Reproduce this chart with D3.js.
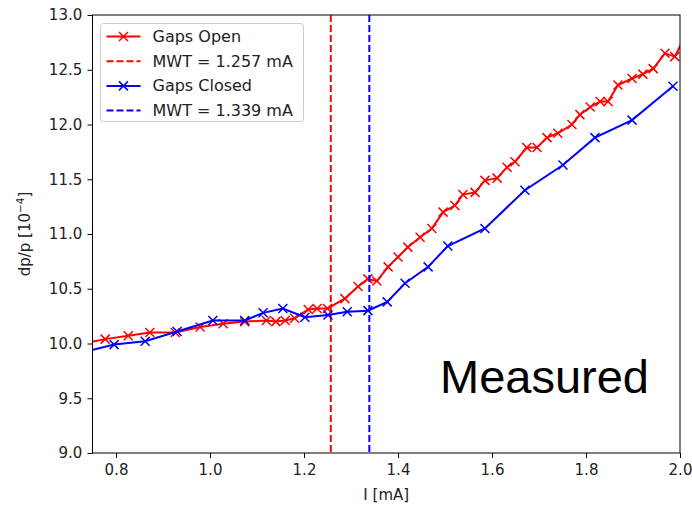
<!DOCTYPE html>
<html>
<head>
<meta charset="utf-8">
<script src="https://cdn.jsdelivr.net/npm/d3@7"></script>
<style>
  body { margin: 0; background: #fff; }
  svg { display: block; font-family: "DejaVu Sans", sans-serif; }
</style>
</head>
<body>
<div id="chart"></div>
<script>
// Gaps Open (red)
var openI = [0.73, 0.777, 0.826, 0.872, 0.926, 0.979, 1.028, 1.074, 1.12, 1.14, 1.16, 1.18,
    1.209, 1.228, 1.25, 1.287, 1.315, 1.336, 1.355, 1.379, 1.400, 1.421, 1.447, 1.472,
    1.496, 1.521, 1.538, 1.564, 1.585, 1.611, 1.632, 1.649, 1.674, 1.696, 1.717, 1.740,
    1.770, 1.787, 1.809, 1.830, 1.847, 1.868, 1.898, 1.921, 1.943, 1.968, 1.989, 2.01];
var openDp = [10.00, 10.04, 10.07, 10.10, 10.10, 10.15, 10.18, 10.20, 10.21, 10.20, 10.21, 10.23,
    10.31, 10.32, 10.32, 10.41, 10.52, 10.59, 10.57, 10.70, 10.79, 10.88, 10.97, 11.05,
    11.20, 11.26, 11.36, 11.38, 11.49, 11.51, 11.61, 11.66, 11.79, 11.79, 11.88, 11.92,
    12.00, 12.09, 12.16, 12.21, 12.21, 12.36, 12.42, 12.46, 12.51, 12.65, 12.62, 12.80];

// Gaps Closed (blue)
var closedI = [0.73, 0.796, 0.862, 0.930, 1.006, 1.074, 1.113, 1.155, 1.202, 1.251, 1.292,
    1.336, 1.377, 1.415, 1.464, 1.506, 1.585, 1.670, 1.751, 1.819, 1.898, 1.985];
var closedDp = [9.92, 9.99, 10.02, 10.11, 10.21, 10.21, 10.28, 10.32, 10.24, 10.26, 10.29,
    10.30, 10.38, 10.55, 10.70, 10.89, 11.05, 11.40, 11.63, 11.88, 12.04, 12.35];

var mwtOpen = 1.257, mwtClosed = 1.339;

var xTicks = [0.8, 1.0, 1.2, 1.4, 1.6, 1.8, 2.0];
var yTicks = [9.0, 9.5, 10.0, 10.5, 11.0, 11.5, 12.0, 12.5, 13.0];

var W = 692, H = 505;
var margin = {top: 15, right: 12, bottom: 52, left: 92.5};
var w = W - margin.left - margin.right, h = H - margin.top - margin.bottom;

var svg = d3.select("#chart").append("svg").attr("width", W).attr("height", H);
var g = svg.append("g").attr("transform", "translate(" + margin.left + "," + margin.top + ")");

var x = d3.scaleLinear().domain([0.75, 2.0]).range([0, w]);
var y = d3.scaleLinear().domain([9.0, 13.0]).range([h, 0]);

svg.append("defs").append("clipPath").attr("id", "clip")
    .append("rect").attr("width", w).attr("height", h);

var plot = g.append("g").attr("clip-path", "url(#clip)");

var line = d3.line().x(function(d) { return x(d[0]); }).y(function(d) { return y(d[1]); });

function drawSeries(xs, ys, color) {
    var pts = xs.map(function(v, i) { return [v, ys[i]]; });
    plot.append("path").datum(pts)
        .attr("d", line).attr("fill", "none")
        .attr("stroke", color).attr("stroke-width", 2);
    var s = 4.5;
    plot.selectAll(null).data(pts).enter().append("path")
        .attr("d", function(d) {
            var cx = x(d[0]), cy = y(d[1]);
            return "M" + (cx - s) + "," + (cy - s) + "L" + (cx + s) + "," + (cy + s) +
                "M" + (cx - s) + "," + (cy + s) + "L" + (cx + s) + "," + (cy - s);
        })
        .attr("stroke", color).attr("stroke-width", 1.5).attr("fill", "none");
}

drawSeries(openI, openDp, "#ff0000");

plot.append("line")
    .attr("x1", x(mwtOpen)).attr("x2", x(mwtOpen)).attr("y1", 0).attr("y2", h)
    .attr("stroke", "#ff0000").attr("stroke-width", 2).attr("stroke-dasharray", "7,3");

drawSeries(closedI, closedDp, "#0000ff");

plot.append("line")
    .attr("x1", x(mwtClosed)).attr("x2", x(mwtClosed)).attr("y1", 0).attr("y2", h)
    .attr("stroke", "#0000ff").attr("stroke-width", 2).attr("stroke-dasharray", "7,3");

// axes
var xAxis = d3.axisBottom(x).tickValues(xTicks).tickFormat(d3.format(".1f")).tickSize(5).tickSizeOuter(0);
var yAxis = d3.axisLeft(y).tickValues(yTicks).tickFormat(d3.format(".1f")).tickSize(5).tickSizeOuter(0);

var gx = g.append("g").attr("transform", "translate(0," + h + ")").call(xAxis);
var gy = g.append("g").call(yAxis);
[gx, gy].forEach(function(a) {
    a.select(".domain").remove();
    a.selectAll("text").attr("font-size", 15).attr("fill", "#222").attr("font-family", "DejaVu Sans");
    a.selectAll("line").attr("stroke", "#000");
});
gx.selectAll("text").attr("dy", "0.95em");
gy.selectAll("text").attr("dx", "-0.15em");

g.append("rect").attr("width", w).attr("height", h)
    .attr("fill", "none").attr("stroke", "#000").attr("stroke-width", 1);

svg.append("text").attr("x", margin.left + w / 2).attr("y", 500)
    .attr("text-anchor", "middle").attr("font-size", 15).attr("fill", "#222").text("I [mA]");

var yl = svg.append("text").attr("transform", "translate(30," + (margin.top + h / 2) + ") rotate(-90)")
    .attr("text-anchor", "middle").attr("font-size", 15).attr("fill", "#222");
yl.append("tspan").text("dp/p [10");
yl.append("tspan").attr("baseline-shift", "super").attr("font-size", 10.5).text("\u22124");
yl.append("tspan").text("]");

// Measured label
svg.append("text").attr("x", 440).attr("y", 393)
    .style("font-family", "'Liberation Sans', Arial, sans-serif").attr("font-size", 47)
    .attr("fill", "#000").text("Measured");

// legend
var legendItems = [
    {label: "Gaps Open", color: "#ff0000", dash: null},
    {label: "MWT = " + mwtOpen + " mA", color: "#ff0000", dash: "7,3"},
    {label: "Gaps Closed", color: "#0000ff", dash: null},
    {label: "MWT = " + mwtClosed + " mA", color: "#0000ff", dash: "7,3"}
];
var lg = svg.append("g").attr("transform", "translate(100.5,23.5)");
lg.append("rect").attr("width", 203).attr("height", 98).attr("rx", 3)
    .attr("fill", "#fff").attr("fill-opacity", 0.8).attr("stroke", "#ccc");
var rows = lg.selectAll(null).data(legendItems).enter().append("g")
    .attr("transform", function(d, i) { return "translate(0," + (13 + i * 24.7) + ")"; });
rows.append("line").attr("x1", 6).attr("x2", 40)
    .attr("stroke", function(d) { return d.color; }).attr("stroke-width", 2)
    .attr("stroke-dasharray", function(d) { return d.dash; });
rows.filter(function(d) { return !d.dash; }).append("path")
    .attr("d", "M18.5,-4.5L27.5,4.5M18.5,4.5L27.5,-4.5")
    .attr("stroke", function(d) { return d.color; }).attr("stroke-width", 1.5);
rows.append("text").attr("x", 52).attr("y", 5.5)
    .attr("font-size", 16).attr("fill", "#222").text(function(d) { return d.label; });
</script>
</body>
</html>
